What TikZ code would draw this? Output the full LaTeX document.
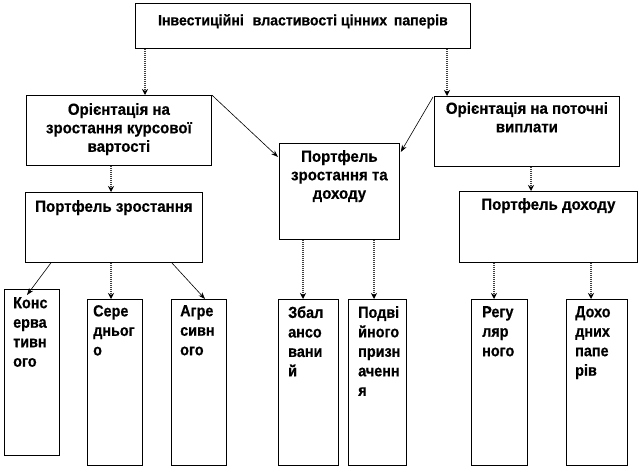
\documentclass[tikz,border=0pt]{standalone}
\usepackage{fontspec}
\setmainfont{Liberation Sans}
\newfontfamily\fT{Liberation Sans}[FakeStretch=0.94, BoldFeatures={FakeBold=0.5}]
\newfontfamily\fL{Liberation Sans}[FakeStretch=0.9, BoldFeatures={FakeBold=0.5}]
\usetikzlibrary{arrows.meta,calc}
\tikzset{
  box/.style={draw, line width=0.8pt, rectangle, inner sep=0pt},
  ttl/.style={font=\fT\fontsize{15}{18}\selectfont\bfseries, inner sep=0pt, anchor=north},
  mid/.style={font=\fT\fontsize{16}{18.5}\selectfont\bfseries, inner sep=0pt, anchor=north, align=center},
  low/.style={font=\fL\fontsize{16}{19.5}\selectfont\bfseries, inner sep=0pt, anchor=north west, align=left},
  vconn/.style={line width=1.5pt, black!75, dash pattern=on 1pt off 1pt, -{Stealth[length=6pt,width=6pt,black]}},
  dconn/.style={line width=0.6pt, black, -{Stealth[length=7pt,width=5pt]}}
}
\newcommand{\bx}[5]{\node[box, anchor=north west, minimum width={(#4-#2)*1pt}, minimum height={(#5-#3)*1pt}] (#1) at (#2,#3) {};}
\begin{document}
\begin{tikzpicture}[x=1pt,y=-1pt]
\fill[white] (0,0) rectangle (639,468);
\useasboundingbox (0,0) rectangle (639,468);
% boxes
\bx{top}{135}{3}{470}{48}
\bx{oL}{26}{95}{211}{165}
\bx{oR}{434}{96}{619}{166}
\bx{pZD}{279}{143}{399}{239}
\bx{pZ}{25}{192}{202}{262}
\bx{pD}{459}{191}{637}{262}
\bx{b1}{4}{289}{59}{455}
\bx{b2}{87}{299}{142}{465}
\bx{b3}{171}{299}{226}{465}
\bx{b4}{278}{299}{338}{465}
\bx{b5}{348}{299}{406}{465}
\bx{b6}{471}{299}{527}{465}
\bx{b7}{566}{299}{627}{465}
% texts
\node[ttl] (topT) at ($(top.north)+(0,11)$) {Інвестиційні\hspace{0.6em}властивості цінних\hspace{0.45em}паперів};
\node[mid] (oLT) at ($(oL.north)+(0,8)$) {Орієнтація на\\зростання курсової\\вартості};
\node[mid] (oRT) at ($(oR.north)+(0,6)$) {Орієнтація на поточні\\виплати};
\node[mid] (pZDT) at ($(pZD.north)+(0,7)$) {Портфель\\зростання та\\доходу};
\node[mid] (pZT) at ($(pZ.north)+(0,8)$) {Портфель зростання};
\node[mid] (pDT) at ($(pD.north)+(0,7)$) {Портфель доходу};
\node[low] (b1T) at ($(b1.north west)+(9,8)$) {Конс\\ерва\\тивн\\ого};
\node[low] (b2T) at ($(b2.north west)+(6,6)$) {Сере\\дньог\\о};
\node[low] (b3T) at ($(b3.north west)+(9,6)$) {Агре\\сивн\\ого};
\node[low] (b4T) at ($(b4.north west)+(10,7)$) {Збал\\ансо\\вани\\й};
\node[low] (b5T) at ($(b5.north west)+(10,7)$) {Подві\\йного\\призн\\аченн\\я};
\node[low] (b6T) at ($(b6.north west)+(11,7)$) {Регу\\ляр\\ного};
\node[low] (b7T) at ($(b7.north west)+(9,7)$) {Дохо\\дних\\папе\\рів};
% connector x positions
\coordinate (xa) at (145,0);
\coordinate (xb) at (447,0);
\coordinate (xc) at (111,0);
\coordinate (xd) at (531,0);
\coordinate (xe) at (303,0);
\coordinate (xf) at (374,0);
\coordinate (xg) at (494,0);
\coordinate (xh) at (591,0);
\draw[vconn] (top.south -| xa) -- (oL.north -| xa);
\draw[vconn] (top.south -| xb) -- (oR.north -| xb);
\draw[vconn] (oL.south -| xc) -- (pZ.north -| xc);
\draw[vconn] (oR.south -| xd) -- (pD.north -| xd);
\draw[vconn] (pZ.south -| xc) -- (b2.north -| xc);
\draw[vconn] (pZD.south -| xe) -- (b4.north -| xe);
\draw[vconn] (pZD.south -| xf) -- (b5.north -| xf);
\draw[vconn] (pD.south -| xg) -- (b6.north -| xg);
\draw[vconn] (pD.south -| xh) -- (b7.north -| xh);
% diagonal connectors
\draw[dconn] (oL.north east) -- ($(pZD.north west)+(-1,14)$);
\draw[dconn] ($(oR.north west)+(-1,1)$) -- ($(pZD.north east)+(1,9)$);
\draw[dconn] ($(pZ.south west)+(26,0)$) -- ($(b1.north west)+(23,6)$);
\draw[dconn] ($(pZ.south east)+(-31,0)$) -- ($(b3.north west)+(34,0)$);
\end{tikzpicture}
\end{document}
